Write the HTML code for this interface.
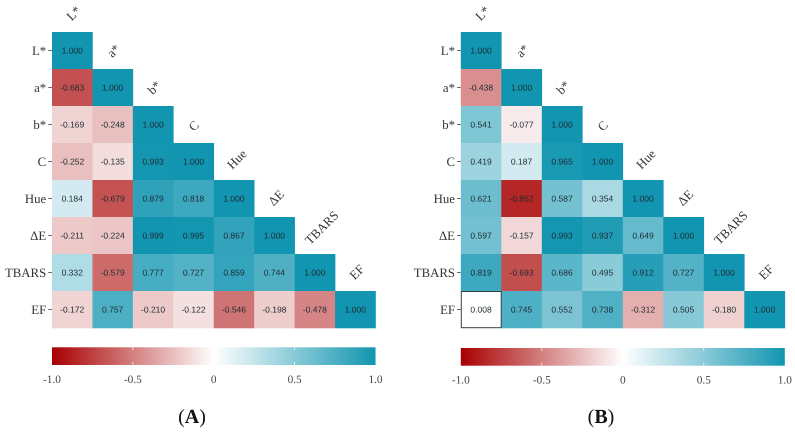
<!DOCTYPE html>
<html>
<head>
<meta charset="utf-8">
<title>Correlation heatmaps</title>
<style>
html,body{margin:0;padding:0;background:#fff;width:795px;height:432px;overflow:hidden}
svg{display:block;filter:blur(0.35px);text-rendering:geometricPrecision}
.axis{font-family:"Liberation Serif",serif;font-size:12.8px;fill:#333}
.cell-text{font-family:"Liberation Sans",sans-serif;font-size:8.5px;fill:#1c2a30}
.bar-text{font-family:"Liberation Serif",serif;font-size:11.3px;fill:#444}
.panel-title{font-family:"Liberation Serif",serif;font-size:20px;fill:#111}
</style>
</head>
<body>
<svg id="chart" width="795" height="432" viewBox="0 0 795 432" xmlns="http://www.w3.org/2000/svg">
<defs>
<linearGradient id="bar-gradient" x1="0" x2="1" y1="0" y2="0">
<stop offset="0" stop-color="#a80000"/>
<stop offset="0.5" stop-color="#ffffff"/>
<stop offset="1" stop-color="#1295b0"/>
</linearGradient>
</defs>
</svg>
<script>
const variables = ['L*', 'a*', 'b*', 'C', 'Hue', 'ΔE', 'TBARS', 'EF'];
const valuesA = [
  [1.000],
  [-0.683, 1.000],
  [-0.169, -0.248, 1.000],
  [-0.252, -0.135, 0.993, 1.000],
  [0.184, -0.679, 0.879, 0.818, 1.000],
  [-0.211, -0.224, 0.999, 0.995, 0.867, 1.000],
  [0.332, -0.579, 0.777, 0.727, 0.859, 0.744, 1.000],
  [-0.172, 0.757, -0.210, -0.122, -0.546, -0.198, -0.478, 1.000]
];
const valuesB = [
  [1.000],
  [-0.438, 1.000],
  [0.541, -0.077, 1.000],
  [0.419, 0.187, 0.965, 1.000],
  [0.621, -0.852, 0.587, 0.354, 1.000],
  [0.597, -0.157, 0.993, 0.937, 0.649, 1.000],
  [0.819, -0.693, 0.686, 0.495, 0.912, 0.727, 1.000],
  [0.008, 0.745, 0.552, 0.738, -0.312, 0.505, -0.180, 1.000]
];
const barTickValues = [-1, -0.5, 0, 0.5, 1];
const barTickLabels = ['-1.0', '-0.5', '0', '0.5', '1.0'];

const svg = document.getElementById('chart');
const NS = 'http://www.w3.org/2000/svg';

function make(tag, attrs, parent, text) {
  const el = document.createElementNS(NS, tag);
  for (const k in attrs) el.setAttribute(k, attrs[k]);
  if (text !== undefined) el.textContent = text;
  parent.appendChild(el);
  return el;
}

function colorScale(v) {
  const low = [168, 0, 0], high = [18, 149, 176], mid = [255, 255, 255];
  const end = v < 0 ? low : high;
  const t = Math.min(1, Math.abs(v));
  return 'rgb(' + mid.map((m, i) => Math.round(m + (end[i] - m) * t)).join(',') + ')';
}

function slug(s) {
  return s.replace('*', '-star').replace('Δ', 'delta-').toLowerCase();
}

function drawPanel(key, values, left, width, title, titleX, barTop, outlineSmall) {
  const top = 32, plotHeight = 296;
  const n = variables.length;
  const xScale = i => left + i * width / n;
  const yScale = i => top + i * plotHeight / n;
  const cw = width / n, ch = plotHeight / n;

  const panel = make('g', {}, svg);
  
  

  values.forEach((row, r) => {
    row.forEach((v, c) => {
      const rect = make('rect', {x: xScale(c), y: yScale(r), width: cw + 0.3, height: ch + 0.3, fill: colorScale(v)}, panel);
      
      
    });
  });

  values.forEach((row, r) => {
    row.forEach((v, c) => {
      if (Math.abs(v) < outlineSmall) {
        const box = make('rect', {x: xScale(c) + 0.5, y: yScale(r) + 0.5, width: cw - 0.6, height: ch - 0.8, fill: '#fff', stroke: '#3a3f42', 'stroke-width': 1}, panel);
        
        
      }
      const label = make('text', {x: xScale(c) + cw / 2, y: yScale(r) + ch / 2 + 3, 'text-anchor': 'middle', class: 'cell-text'}, panel, v.toFixed(3));
      
      
    });
  });

  variables.forEach((name, i) => {
    const tick = make('line', {x1: left - 3.8, x2: left, y1: yScale(i) + ch / 2, y2: yScale(i) + ch / 2, stroke: '#444', 'stroke-width': 0.8}, panel);
    
    

    const yLabel = make('text', {x: left - 5.8, y: yScale(i) + ch / 2 + 4.3, 'text-anchor': 'end', class: 'axis'}, panel, name);
    
    

    const xLabel = make('text', {x: 0, y: 4, 'text-anchor': 'middle', class: 'axis'}, panel, name);
    
    
    const extra = xLabel.getComputedTextLength() - 8.7;
    const cx = xScale(i) + cw / 2 + 0.5 + 0.2 * extra;
    const cy = yScale(i) - 17 - 0.28 * extra;
    xLabel.setAttribute('x', cx);
    xLabel.setAttribute('y', cy + 4);
    xLabel.setAttribute('transform', 'rotate(-45 ' + cx + ' ' + cy + ')');
  });

  const barHeight = 17.7;
  const barScale = v => left + (v + 1) / 2 * width;
  const bar = make('rect', {x: left, y: barTop, width: width, height: barHeight, fill: 'url(#bar-gradient)'}, panel);
  
  

  barTickValues.forEach((v, i) => {
    const x = barScale(v);
    if (Math.abs(v) < 1) {
      const t1 = make('line', {x1: x, x2: x, y1: barTop, y2: barTop + 3, stroke: '#fff', 'stroke-width': 0.7}, panel);
      
      
      const t2 = make('line', {x1: x, x2: x, y1: barTop + barHeight - 3, y2: barTop + barHeight, stroke: '#fff', 'stroke-width': 0.7}, panel);
      
      
    }
    const tl = make('text', {x: x, y: barTop + 35.5, 'text-anchor': 'middle', class: 'bar-text'}, panel, barTickLabels[i]);
    
    
  });

  const t = make('text', {x: titleX, y: 423, 'text-anchor': 'middle', class: 'panel-title'}, panel);
  
  
  make('tspan', {}, t, '(');
  make('tspan', {'font-weight': 'bold'}, t, title);
  make('tspan', {}, t, ')');
}

drawPanel('a', valuesA, 52, 323.5, 'A', 192, 347.3, 0);
drawPanel('b', valuesB, 460.8, 324, 'B', 601, 348, 0.05);
</script>
</body>
</html>
